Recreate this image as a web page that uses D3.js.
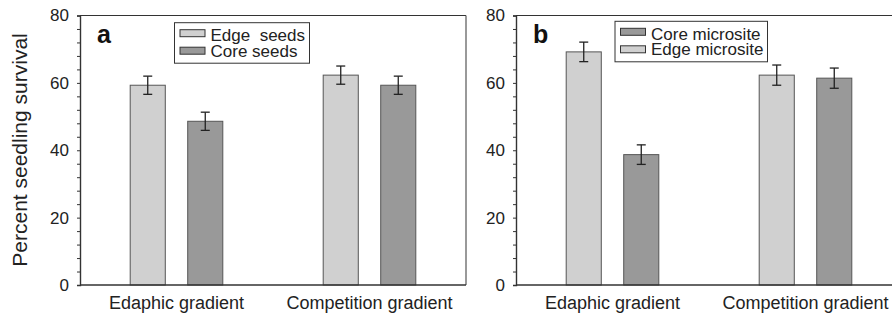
<!DOCTYPE html>
<html>
<head>
<meta charset="utf-8">
<script src="https://cdn.jsdelivr.net/npm/d3@7"></script>
<style>
  body { margin: 0; background: #fff; }
  svg { display: block; font-family: "Liberation Sans", Arial, sans-serif; }
  .tick text { font-size: 17px; fill: #222; }
  .axis path, .axis line { stroke: #333; }
</style>
</head>
<body>
<svg width="892" height="318"></svg>
<script>
// **** data ****
var groups = ["Edaphic gradient", "Competition gradient"];

// panel a
var seriesA = ["Edge  seeds", "Core seeds"];
var edgeSeeds = [59.3, 62.3];
var edgeSeedsErr = [2.7, 2.7];
var coreSeeds = [48.6, 59.3];
var coreSeedsErr = [2.7, 2.7];

// panel b (bars: edge then core; legend lists core first)
var seriesB = ["Core microsite", "Edge microsite"];
var edgeMicro = [69.2, 62.3];
var edgeMicroErr = [2.9, 3.0];
var coreMicro = [38.7, 61.4];
var coreMicroErr = [2.9, 3.0];

var yTicks = d3.range(0, 81, 4);

var lightFill = "#d0d0d0", darkFill = "#999999";

var svg = d3.select("svg");

function drawPanel(opt) {
    var x0 = d3.scaleBand().domain(groups).range([opt.left, opt.left + 386]);
    var x1 = d3.scaleBand().domain([0, 1]).range([-46.3, 46.3]).paddingInner(0.39);
    var y = d3.scaleLinear().domain([0, 80]).range([285, 15.5]);

    var g = svg.append("g");

    // frame top (and right for panel a)
    g.append("line")
        .attr("x1", opt.left).attr("x2", opt.left + 386)
        .attr("y1", y(80)).attr("y2", y(80))
        .attr("stroke", "#333").attr("stroke-width", 1.2);
    g.append("line")
        .attr("x1", opt.left + 386).attr("x2", opt.left + 386)
        .attr("y1", y(80)).attr("y2", y(0))
        .attr("stroke", "#555").attr("stroke-width", 1.2);

    var bars = [
        { vals: opt.first, errs: opt.firstErr, fill: lightFill, i: 0 },
        { vals: opt.second, errs: opt.secondErr, fill: darkFill, i: 1 }
    ];
    var rows = [];
    bars.forEach(function(b) {
        groups.forEach(function(grp, k) {
            rows.push({ grp: grp, v: b.vals[k], e: b.errs[k], fill: b.fill, i: b.i });
        });
    });

    g.selectAll("rect.bar")
        .data(rows)
        .enter()
        .append("rect")
        .attr("class", "bar")
        .attr("x", function(d) { return x0(d.grp) + x0.bandwidth() / 2 + x1(d.i); })
        .attr("y", function(d) { return y(d.v); })
        .attr("width", x1.bandwidth())
        .attr("height", function(d) { return y(0) - y(d.v); })
        .attr("fill", function(d) { return d.fill; })
        .attr("stroke", "#555")
        .attr("stroke-width", 1);

    // error bars
    var eb = g.selectAll("g.err")
        .data(rows)
        .enter()
        .append("g")
        .attr("class", "err")
        .attr("transform", function(d) {
            return "translate(" + (x0(d.grp) + x0.bandwidth() / 2 + x1(d.i) + x1.bandwidth() / 2) + ",0)";
        })
        .attr("stroke", "#222")
        .attr("stroke-width", 1.3);
    eb.append("line")
        .attr("y1", function(d) { return y(d.v + d.e); })
        .attr("y2", function(d) { return y(d.v - d.e); });
    eb.append("line").attr("x1", -4.5).attr("x2", 4.5)
        .attr("y1", function(d) { return y(d.v + d.e); })
        .attr("y2", function(d) { return y(d.v + d.e); });
    eb.append("line").attr("x1", -4.5).attr("x2", 4.5)
        .attr("y1", function(d) { return y(d.v - d.e); })
        .attr("y2", function(d) { return y(d.v - d.e); });

    // y axis
    var ya = g.append("g").attr("class", "axis")
        .attr("transform", "translate(" + opt.left + ",0)")
        .call(d3.axisLeft(y).tickValues(yTicks).tickSize(3).tickPadding(8)
            .tickFormat(function(d) { return d % 20 === 0 ? d : ""; }));
    ya.select(".domain").attr("stroke-width", 1.4);

    // x axis line
    g.append("line")
        .attr("x1", opt.left).attr("x2", opt.left + 386)
        .attr("y1", y(0)).attr("y2", y(0))
        .attr("stroke", "#333").attr("stroke-width", 1.6);

    g.selectAll("text.xlab")
        .data(groups)
        .enter()
        .append("text")
        .attr("class", "xlab")
        .attr("x", function(d) { return x0(d) + x0.bandwidth() / 2; })
        .attr("y", 309)
        .attr("text-anchor", "middle")
        .attr("font-size", 18)
        .attr("fill", "#222")
        .text(function(d) { return d; });

    // panel letter
    g.append("text")
        .attr("x", opt.left + 17)
        .attr("y", 43)
        .attr("font-size", 25)
        .attr("font-weight", "bold")
        .attr("fill", "#111")
        .text(opt.letter);

    // legend
    var lg = g.append("g").attr("transform", "translate(" + opt.legX + "," + opt.legY + ")");
    lg.append("rect")
        .attr("width", opt.legW).attr("height", 40.5)
        .attr("fill", "#fff").attr("stroke", "#333").attr("stroke-width", 1);
    opt.legend.forEach(function(name, k) {
        lg.append("rect")
            .attr("x", 5.5).attr("y", 7 + k * 17.5)
            .attr("width", 25).attr("height", 7)
            .attr("fill", opt.legFill[k]).attr("stroke", "#333").attr("stroke-width", 1);
        lg.append("text")
            .attr("x", 36).attr("y", 18.5 + k * 15.5)
            .attr("font-size", 17)
            .attr("fill", "#222")
            .style("white-space", "pre")
            .text(name);
    });
}

drawPanel({
    left: 80, letter: "a",
    first: edgeSeeds, firstErr: edgeSeedsErr,
    second: coreSeeds, secondErr: coreSeedsErr,
    legend: seriesA, legFill: [lightFill, darkFill],
    legX: 174.5, legY: 22.7, legW: 135
});

drawPanel({
    left: 516, letter: "b",
    first: edgeMicro, firstErr: edgeMicroErr,
    second: coreMicro, secondErr: coreMicroErr,
    legend: seriesB, legFill: [darkFill, lightFill],
    legX: 615, legY: 21.3, legW: 152.5
});

// shared y label
svg.append("text")
    .attr("transform", "translate(27,150) rotate(-90)")
    .attr("text-anchor", "middle")
    .attr("font-size", 21)
    .attr("fill", "#222")
    .text("Percent seedling survival");
</script>
</body>
</html>
